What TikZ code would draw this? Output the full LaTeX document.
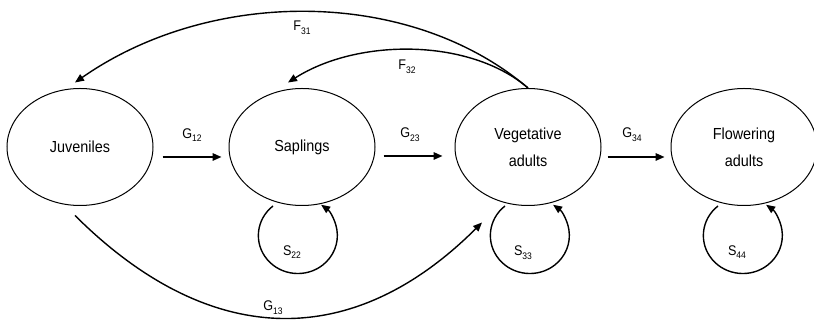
\documentclass[tikz,border=0pt]{standalone}
\usepackage{fontspec}
\setmainfont{Liberation Sans}
\newfontfamily\narrowfont[FakeStretch=0.9]{Liberation Sans}
\usetikzlibrary{arrows.meta,shapes.geometric}
\newcommand{\lbl}[2]{#1\raisebox{-0.5ex}{\fontsize{9.5}{9.5}\selectfont #2}}
\tikzset{
  stage/.style={draw, line width=1pt, ellipse, minimum width=146pt, minimum height=117pt,
    inner sep=0pt, align=center, font=\narrowfont\fontsize{16}{27}\selectfont},
  arr/.style={line width=1.4pt, -{Triangle[length=9pt,width=7.5pt]}},
  harr/.style={line width=1.6pt, -{Triangle[length=9pt,width=7.5pt]}},
  lab/.style={inner sep=0pt, font=\narrowfont\fontsize{14}{16}\selectfont},
  selfloop/.style={line width=1.4pt, -{Triangle[length=9pt,width=7.5pt]}}
}
\begin{document}
\begin{tikzpicture}[x=1pt,y=1pt]
\useasboundingbox (0,0) rectangle (814,320);
% nodes
\node[stage] (juv) at (80,173) {Juveniles};
\node[stage] (sap) at (302,173) {Saplings};
\node[stage] (veg) at (528,173) {Vegetative\\adults};
\node[stage] (flo) at (744,173) {Flowering\\adults};
% horizontal growth arrows
\draw[harr] ([shift={(9pt,-10pt)}]juv.east) -- ([shift={(-7pt,-10pt)}]sap.west);
\draw[harr] ([shift={(8pt,-9pt)}]sap.east) -- ([shift={(-12pt,-9pt)}]veg.west);
\draw[harr] ([shift={(6pt,-10pt)}]veg.east) -- ([shift={(-6pt,-10pt)}]flo.west);
\node[lab] (g12) at (192,185) {\lbl{G}{12}};
\node[lab] (g23) at (410,185) {\lbl{G}{23}};
\node[lab] (g34) at (632,185) {\lbl{G}{34}};
% fecundity arrows
\draw[arr] (veg.north) .. controls (410,332.5) and (211,332.5) .. ([shift={(-5pt,5.5pt)}]juv.north);
\draw[arr] (veg.north) .. controls (470,282) and (358,282) .. ([shift={(-14pt,5.5pt)}]sap.north);
\node[lab] (f31) at (302,292) {\lbl{F}{31}};
\node[lab] (f32) at (407,253) {\lbl{F}{32}};
% G13
\coordinate (g13s) at ([shift={(-5pt,-9.5pt)}]juv.south);
\coordinate (g13e) at ([shift={(-46pt,-16.5pt)}]veg.south);
\draw[arr] (g13s) .. controls (207,-27) and (350,-34) .. (g13e);
\node[lab] (g13) at (273,12) {\lbl{G}{13}};
% self loops
\draw[selfloop] ([shift={(-29pt,-59pt)}]sap.center) arc[start angle=129, end angle=414, x radius=39.5pt, y radius=38pt];
\draw[selfloop] ([shift={(-23pt,-59pt)}]veg.center) arc[start angle=129, end angle=414, x radius=39.5pt, y radius=38pt];
\draw[selfloop] ([shift={(-26pt,-59pt)}]flo.center) arc[start angle=129, end angle=414, x radius=39.5pt, y radius=38pt];
\node[lab] (s22) at (292,68) {\lbl{S}{22}};
\node[lab] (s33) at (523,67) {\lbl{S}{33}};
\node[lab] (s44) at (737,68) {\lbl{S}{44}};
\end{tikzpicture}
\end{document}
